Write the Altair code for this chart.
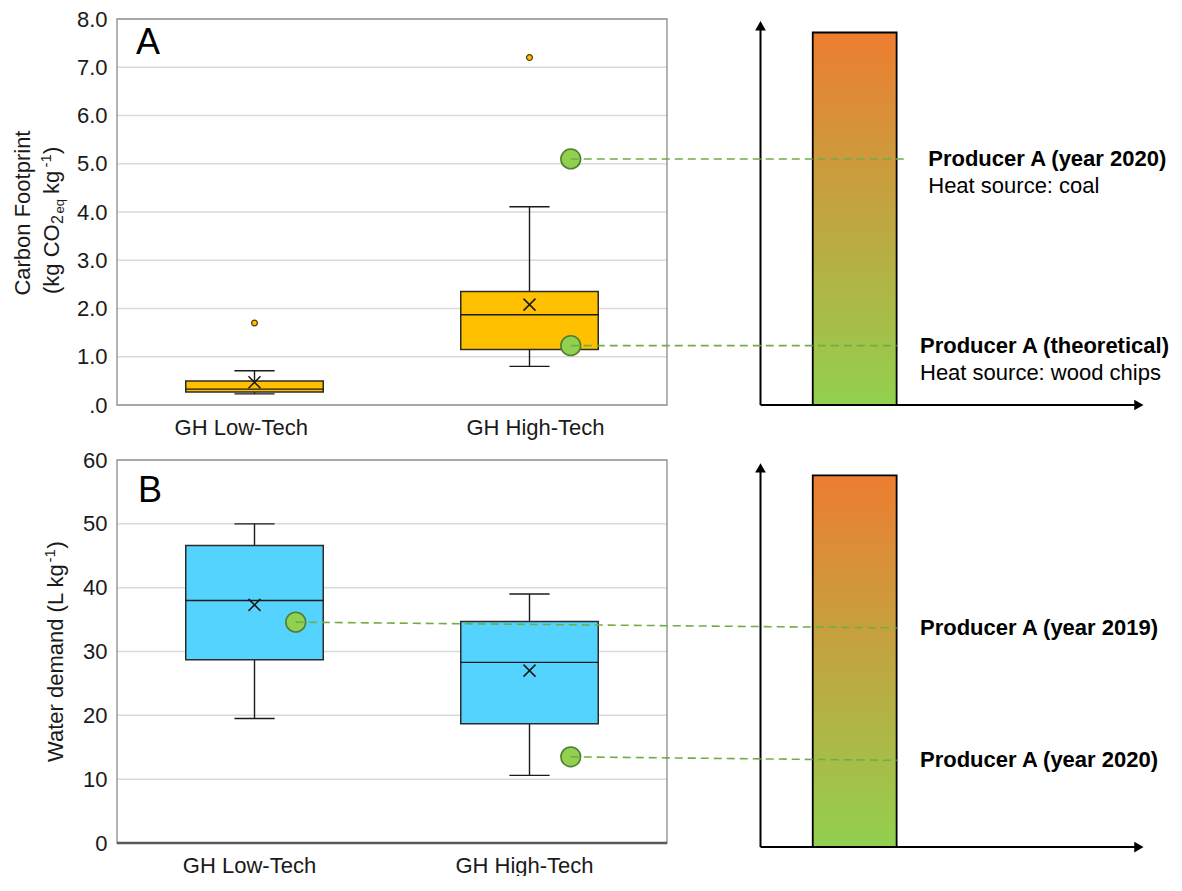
import altair as alt
import pandas as pd

# ---------------- data ----------------
CATEGORIES = ["GH Low-Tech", "GH High-Tech"]

# Panel A - carbon footprint (kg CO2eq per kg)
CF_MIN = [0.23, 0.80]
CF_Q1 = [0.27, 1.15]
CF_MEDIAN = [0.33, 1.87]
CF_Q3 = [0.50, 2.35]
CF_MAX = [0.71, 4.11]
CF_MEAN = [0.47, 2.08]
CF_OUTLIER_CAT = ["GH Low-Tech", "GH High-Tech"]
CF_OUTLIER_VAL = [1.70, 7.20]
CF_PRODUCER_CAT = ["GH High-Tech", "GH High-Tech"]
CF_PRODUCER_VAL = [5.10, 1.23]
CF_PRODUCER_LINK = [5.10, 1.23]
CF_PRODUCER_LABEL = ["Producer A (year 2020)", "Producer A (theoretical)"]
CF_PRODUCER_NOTE = ["Heat source: coal", "Heat source: wood chips"]
CF_RANGE_TOP = 7.72

# Panel B - water demand (L per kg)
WD_MIN = [19.5, 10.6]
WD_Q1 = [28.7, 18.7]
WD_MEDIAN = [38.0, 28.3]
WD_Q3 = [46.6, 34.7]
WD_MAX = [50.0, 39.0]
WD_MEAN = [37.3, 27.0]
WD_PRODUCER_CAT = ["GH Low-Tech", "GH High-Tech"]
WD_PRODUCER_VAL = [34.6, 13.5]
WD_PRODUCER_LINK = [33.7, 12.95]
WD_PRODUCER_LABEL = ["Producer A (year 2019)", "Producer A (year 2020)"]
WD_PRODUCER_NOTE = ["", ""]
WD_RANGE_TOP = 57.6

# ---------------- styling / layout constants ----------------
FONT = "Liberation Sans"
TXT = "#1a1a1a"
PLOT_W = 1034
PX_PER_X = PLOT_W / 3.76
XS = alt.Scale(domain=[0, 3.76], nice=False, zero=False)
BOX_HALF = 0.25
CAP_HALF = 0.073
PRODUCER_SHIFT = 0.15
ARROW_X = 2.34
ARROW_END_X = 3.716
BAR_X0, BAR_X1 = 2.53, 2.835
GREEN_FILL = "#92D050"
GREEN_EDGE = "#507E32"
LINK_COLOR = "#70AD47"
CROSS = "M-1,-1L1,1M-1,1L1,-1"


def panel(p):
    ys = alt.Scale(domain=[0, p["ymax"]], nice=False, zero=False)
    cx = {c: i + 0.5 for i, c in enumerate(CATEGORIES)}

    label_expr = " : ".join(
        [f"datum.value < {i + 1} ? '{c}'" for i, c in enumerate(CATEGORIES[:-1])]
        + [f"'{CATEGORIES[-1]}'"]
    )
    xaxis = alt.Axis(values=p["xlabel_pos"], labelExpr=label_expr, domain=False,
                     ticks=False, grid=False, labelFontSize=22, labelFont=FONT,
                     labelColor=TXT, labelPadding=12, title=None,
                     labelFlush=False, labelOverlap=False)
    yaxis_kw = dict(values=p["yticks"], domain=False, ticks=False, grid=False,
                    labelFontSize=22, labelFont=FONT, labelColor=TXT,
                    labelPadding=10, title=None, labelOverlap=False)
    if p.get("ylabel_expr"):
        yaxis_kw["labelExpr"] = p["ylabel_expr"]
    yaxis = alt.Axis(**yaxis_kw)

    def ex(f):
        return alt.X(f, type="quantitative", scale=XS, axis=xaxis)

    def ey(f):
        return alt.Y(f, type="quantitative", scale=ys, axis=yaxis)

    frame_df = pd.DataFrame({"x0": [0.0], "x1": [2.0], "y0": [0.0], "y1": [float(p["ymax"])]})
    grid_df = pd.DataFrame({"g": p["grid"], "x0": 0.0, "x1": 2.0})

    box = pd.DataFrame({"cat": CATEGORIES, "lo": p["min"], "q1": p["q1"], "med": p["med"],
                        "q3": p["q3"], "hi": p["max"], "mean": p["mean"]})
    box["cx"] = box["cat"].map(cx)
    box["bx0"] = box["cx"] - BOX_HALF
    box["bx1"] = box["cx"] + BOX_HALF
    box["cx0"] = box["cx"] - CAP_HALF
    box["cx1"] = box["cx"] + CAP_HALF

    grid = alt.Chart(grid_df).mark_rule(color="#D9D9D9", strokeWidth=1.5).encode(
        x=ex("x0"), x2="x1", y=ey("g"))
    frame = alt.Chart(frame_df).mark_rect(fill="white", fillOpacity=0, stroke="#8C8C8C",
                                          strokeWidth=1.3).encode(
        x=ex("x0"), x2="x1", y=ey("y0"), y2="y1")
    layers = [grid, frame]
    if p["bottom_axis"]:
        layers.append(alt.Chart(frame_df).mark_rule(color="#595959", strokeWidth=2.5).encode(
            x=ex("x0"), x2="x1", y=ey("y0")))

    whisk = alt.Chart(box).mark_rule(color="#1a1a1a", strokeWidth=1.4).encode(
        x=ex("cx"), y=ey("lo"), y2="hi")
    cap_lo = alt.Chart(box).mark_rule(color="#1a1a1a", strokeWidth=1.4).encode(
        x=ex("cx0"), x2="cx1", y=ey("lo"))
    cap_hi = alt.Chart(box).mark_rule(color="#1a1a1a", strokeWidth=1.4).encode(
        x=ex("cx0"), x2="cx1", y=ey("hi"))
    rect = alt.Chart(box).mark_rect(color=p["box_color"], stroke="#2b2b2b",
                                    strokeWidth=1.5).encode(
        x=ex("bx0"), x2="bx1", y=ey("q1"), y2="q3")
    med = alt.Chart(box).mark_rule(color="#1a1a1a", strokeWidth=1.4).encode(
        x=ex("bx0"), x2="bx1", y=ey("med"))
    mean = alt.Chart(box).mark_point(shape=CROSS, size=144, filled=False, color="#1a1a1a",
                                     strokeWidth=1.5, opacity=1).encode(
        x=ex("cx"), y=ey("mean"))
    layers += [whisk, cap_lo, cap_hi, rect, med, mean]

    if p.get("out_cat"):
        out = pd.DataFrame({"cat": p["out_cat"], "v": p["out_val"]})
        out["cx"] = out["cat"].map(cx)
        layers.append(alt.Chart(out).mark_circle(size=34, color=p["box_color"], stroke="#4d3a00",
                                                 strokeWidth=1.2, opacity=1).encode(
            x=ex("cx"), y=ey("v")))

    # right-hand schematic: gradient bar and arrow axes
    sch = pd.DataFrame({"ax": [ARROW_X], "ax2": [ARROW_END_X], "b": [p["base"]],
                        "top": [p["arrow_top"]], "bx0": [BAR_X0], "bx1": [BAR_X1],
                        "bar": [p["range_top"]]})
    grad = alt.LinearGradient(gradient="linear",
                              stops=[alt.GradientStop(color="#ED7D31", offset=0),
                                     alt.GradientStop(color="#92D050", offset=1)],
                              x1=0, x2=0, y1=0, y2=1)
    layers.append(alt.Chart(sch).mark_rect(fill=grad, stroke="black", strokeWidth=1.8).encode(
        x=ex("bx0"), x2="bx1", y=ey("b"), y2="bar"))
    layers.append(alt.Chart(sch).mark_rule(color="black", strokeWidth=2).encode(
        x=ex("ax"), y=ey("b"), y2="top"))
    layers.append(alt.Chart(sch).mark_rule(color="black", strokeWidth=2).encode(
        x=ex("ax"), x2="ax2", y=ey("b")))
    layers.append(alt.Chart(sch).mark_point(shape="triangle-up", filled=True, color="black",
                                            size=115, opacity=1).encode(
        x=ex("ax"), y=ey("top")))
    layers.append(alt.Chart(sch).mark_point(shape="triangle-right", filled=True, color="black",
                                            size=115, opacity=1).encode(
        x=ex("ax2"), y=ey("b")))

    # producer points, links and labels
    prod = pd.DataFrame({"cat": p["prod_cat"], "v": p["prod_val"], "link": p["prod_link"],
                         "label": p["prod_label"], "note": p["prod_note"]})
    prod["px"] = prod["cat"].map(cx) + PRODUCER_SHIFT
    prod["ex"] = p["link_end_x"]
    prod["lx"] = p["label_x"]
    layers.append(alt.Chart(prod).mark_circle(size=390, color=GREEN_FILL, stroke=GREEN_EDGE,
                                              strokeWidth=1.6, opacity=1).encode(
        x=ex("px"), y=ey("v")))
    layers.append(alt.Chart(prod).mark_rule(color=LINK_COLOR, strokeWidth=1.6,
                                            strokeDash=[8, 5]).encode(
        x=ex("px"), x2="ex", y=ey("v"), y2="link"))
    layers.append(alt.Chart(prod).mark_text(align="left", baseline="middle", fontSize=22,
                                            fontWeight="bold", font=FONT, color="black").encode(
        x=ex("lx"), y=ey("link"), text="label"))
    layers.append(alt.Chart(prod).mark_text(align="left", baseline="middle", fontSize=22,
                                            font=FONT, color="black", dy=27).encode(
        x=ex("lx"), y=ey("link"), text="note"))

    # panel letter
    let = pd.DataFrame({"x": [p["letter_x"]], "y": [p["letter_y"]], "t": [p["letter"]]})
    layers.append(alt.Chart(let).mark_text(align="left", baseline="middle", fontSize=36,
                                           font=FONT, color="black").encode(
        x=ex("x"), y=ey("y"), text="t"))

    # rotated y-axis title (with sub/superscripts)
    for line_x, start, pieces in p["title"]:
        anchor = pd.DataFrame({"x": [line_x / PX_PER_X], "y": [p["ymax"] / 2]})
        for text, fs, off, shift in pieces:
            layers.append(alt.Chart(anchor).mark_text(
                angle=270, align="left", baseline="middle", fontSize=fs, font=FONT,
                color=TXT, dx=start + off, dy=shift).encode(
                x=ex("x"), y=ey("y"), text=alt.value(text)))

    return alt.layer(*layers).properties(
        width=PLOT_W, height=p["height"],
        view=alt.ViewBackground(stroke="transparent", strokeWidth=0),
    )


panel_a = dict(
    ymax=8, yticks=list(range(0, 9)), height=386, grid=[1, 2, 3, 4, 5, 6, 7],
    ylabel_expr="datum.value == 0 ? '.0' : format(datum.value, '.1f')",
    xlabel_pos=[0.45, 1.52], bottom_axis=False, box_color="#FFC000",
    min=CF_MIN, q1=CF_Q1, med=CF_MEDIAN, q3=CF_Q3, max=CF_MAX, mean=CF_MEAN,
    out_cat=CF_OUTLIER_CAT, out_val=CF_OUTLIER_VAL,
    prod_cat=CF_PRODUCER_CAT, prod_val=CF_PRODUCER_VAL, prod_link=CF_PRODUCER_LINK,
    prod_label=CF_PRODUCER_LABEL, prod_note=CF_PRODUCER_NOTE,
    link_end_x=[2.861, 2.835], label_x=[2.95, 2.92],
    base=0.0, arrow_top=7.86, range_top=CF_RANGE_TOP,
    letter="A", letter_x=0.069, letter_y=7.5,
    title=[
        (-94, -83.6, [("Carbon Footprint", 22, 0, 0)]),
        (-65, -82, [("(kg CO", 22, 0, 0), ("2", 16, 70, 6), (" eq", 13, 80.5, 8),
                    (" kg", 22, 100, 0), ("-1", 15, 126.5, -6), (")", 22, 140, 0)]),
    ],
)

panel_b = dict(
    ymax=60, yticks=list(range(0, 61, 10)), height=383, grid=[10, 20, 30, 40, 50],
    xlabel_pos=[0.48, 1.48], bottom_axis=True, box_color="#55D3FF",
    min=WD_MIN, q1=WD_Q1, med=WD_MEDIAN, q3=WD_Q3, max=WD_MAX, mean=WD_MEAN,
    prod_cat=WD_PRODUCER_CAT, prod_val=WD_PRODUCER_VAL, prod_link=WD_PRODUCER_LINK,
    prod_label=WD_PRODUCER_LABEL, prod_note=WD_PRODUCER_NOTE,
    link_end_x=[2.835, 2.835], label_x=[2.92, 2.92],
    base=-0.63, arrow_top=58.75, range_top=WD_RANGE_TOP,
    letter="B", letter_x=0.076, letter_y=55.2,
    title=[
        (-61, -110.5, [("Water demand (L kg", 22, 0, 0), ("-1", 15, 199.5, -6),
                       (")", 22, 213.5, 0)]),
    ],
)

chart = alt.vconcat(panel(panel_a), panel(panel_b), spacing=55, bounds="flush").properties(
    padding={"left": 4, "top": 0, "right": 0, "bottom": 0}
).configure_view(stroke="transparent", strokeWidth=0).configure(font=FONT)

chart.save("out.html", embed_options={"renderer": "svg", "actions": False})
